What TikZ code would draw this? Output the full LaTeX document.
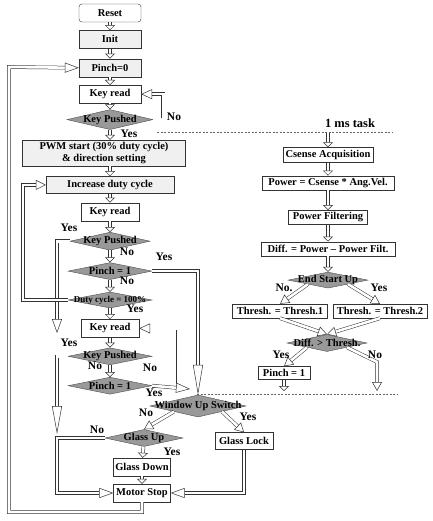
\documentclass[tikz,border=0pt]{standalone}
\usepackage{fontspec}
\setmainfont{Liberation Serif}
\usetikzlibrary{arrows.meta}
\usetikzlibrary{calc}
\usetikzlibrary{positioning}
\usetikzlibrary{shapes.geometric}

\tikzset{
  box/.style={shape=rectangle, draw=black!80, fill=white, inner sep=1pt,
    minimum height=18pt},
  shaded/.style={box, fill=black!6},
  decision/.style={shape=diamond, draw=black!70, fill=black!40, inner sep=0pt},
  flow/.style={draw=black!80, line width=0.5pt, double=white,
    double distance=2.6pt,
    -{Triangle[fill=white, line width=0.5pt, length=#1, width=10pt]}},
  flow/.default=5pt,
  answer/.style={inner sep=0pt, font=\bfseries\fontsize{11.5}{13}\selectfont},
  taskline/.style={draw=black!60, dash pattern=on 2pt off 1.5pt}
}

\begin{document}
\begin{tikzpicture}[x=1pt, y=-1pt,
    font=\bfseries\fontsize{10.5}{12}\selectfont]
  \useasboundingbox (0,0) rectangle (432,521);

  % main loop
  \node[name=reset, box, rounded corners=3pt, minimum width=62pt] at (110,13) {Reset};
  \node[name=init, shaded, minimum width=62pt, below=8pt of reset] {Init};
  \node[name=pinch0, shaded, minimum width=62pt, below=10pt of init] {Pinch=0};
  \node[name=keyA, box, minimum width=62pt, below=8pt of pinch0] {Key read};
  \node[name=pushA, decision, minimum width=86pt, minimum height=20pt,
    below=6pt of keyA] {\makebox[0pt]{Key Pushed}};
  \node[name=pwm, shaded, minimum width=163pt, minimum height=26pt, align=center,
    below=10pt of pushA, xshift=-6pt] {PWM start (30\% duty cycle)\\\& direction setting};
  \node[name=incr, shaded, minimum width=128pt, minimum height=17pt,
    below=10pt of pwm, xshift=6pt] {Increase duty cycle};
  \node[name=keyB, box, minimum width=58pt, below=9pt of incr] {Key read};
  \node[name=pushB, decision, minimum width=80pt, minimum height=18pt,
    below=11pt of keyB] {\makebox[0pt]{Key Pushed}};
  \node[name=pinchA, decision, minimum width=84pt, minimum height=17pt,
    below=12pt of pushB] {\makebox[0pt]{Pinch = 1}};
  \node[name=duty, decision, minimum width=84pt, minimum height=16pt,
    below=12pt of pinchA] {\makebox[0pt]{\fontsize{9}{10}\selectfont Duty cycle = 100\%}};
  \node[name=keyC, box, minimum width=58pt, below=11pt of duty] {Key read};
  \node[name=pushC, decision, minimum width=84pt, minimum height=17pt,
    below=10pt of keyC] {\makebox[0pt]{Key Pushed}};
  \node[name=pinchB, decision, minimum width=84pt, minimum height=17pt,
    below=12pt of pushC] {\makebox[0pt]{Pinch = 1}};

  \node[name=window, decision, minimum width=96pt, minimum height=22pt]
    at (198,406) {\makebox[0pt]{Window Up Switch}};
  \node[name=glassup, decision, minimum width=78pt, minimum height=17pt]
    at (144,438) {\makebox[0pt]{Glass Up}};
  \node[name=glasslock, box, minimum width=58pt, minimum height=17pt]
    at (244,441) {Glass Lock};
  \node[name=glassdown, box, minimum width=57pt] at (142,467) {Glass Down};
  \node[name=motor, box, minimum width=57pt] at (142,493) {Motor Stop};

  % 1 ms task
  \node[name=task, font=\bfseries\fontsize{12.5}{14}\selectfont] at (350,123) {1 ms task};
  \draw[taskline] (157,132) -- (392,132);
  \draw[taskline] (197,394) -- (398,394);
  \node[name=csense, box, minimum width=90pt, minimum height=15pt]
    at (328,155) {Csense Acquisition};
  \node[name=power, box, minimum width=132pt, minimum height=14pt,
    below=13pt of csense] {Power = Csense * Ang.Vel.};
  \node[name=filt, box, minimum width=79pt, minimum height=14pt,
    below=20pt of power] {Power Filtering};
  \node[name=diff, box, minimum width=134pt, minimum height=14pt,
    below=17pt of filt] {Diff. = Power -- Power Filt.};
  \node[name=endsu, decision, minimum width=80pt, minimum height=16pt,
    below=16pt of diff] {\makebox[0pt]{End Start Up}};
  \node[name=th1, box, minimum width=95pt, minimum height=14pt]
    at (280,311) {Thresh. = Thresh.1};
  \node[name=th2, box, minimum width=94pt, minimum height=14pt]
    at (380,311) {Thresh. = Thresh.2};
  \node[name=dgt, decision, minimum width=80pt, minimum height=17pt]
    at (327,343) {\makebox[0pt]{Diff. > Thresh.}};
  \node[name=pinchR, box, minimum width=52pt, minimum height=13pt]
    at (284,373) {Pinch = 1};

  \coordinate (taskin) at (328,133);
  \coordinate (pushBend) at (57,333);
  \coordinate (pushCend) at (57,434);
  \coordinate (pinchBend) at (190,389);
  \coordinate (dgtbend) at (377,362);
  \coordinate (noend) at (377,391);
  \coordinate (pinchRend) at (284,391);
  \coordinate (lockbend) at (244,493);
  \coordinate (upbendA) at (57,438);
  \coordinate (upbendB) at (57,493);
  \coordinate (stopbendA) at (142,512);
  \coordinate (stopbendB) at (9,512);
  \coordinate (stopbendC) at (9,67);

  \path (reset) edge[flow] (init);
  \path (init) edge[flow] (pinch0);
  \path (pinch0) edge[flow] (keyA);
  \path (keyA) edge[flow] (pushA);
  \draw[flow] (pushA.south) -- (pushA.south |- pwm.north);
  \draw[flow] (incr.north |- pwm.south) -- (incr.north);
  \path (incr) edge[flow] (keyB);
  \path (keyB) edge[flow] (pushB);
  \path (pushB) edge[flow] (pinchA);
  \path (pinchA) edge[flow] (duty);
  \path (duty) edge[flow] (keyC);
  \path (keyC) edge[flow] (pushC);
  \path (pushC) edge[flow] (pinchB);
  \path (glassup) edge[flow] (glassdown);
  \path (glassdown) edge[flow] (motor);

  \draw[flow=11pt] (pushA.east) -- ++(10pt,0) |- (keyA.east);
  \draw[flow=14pt] (pushB.west) -| (pushBend);
  \draw[flow=30pt] (pinchA.east) -| (window.north);
  \draw[flow=10pt] (duty.west) -- ++(-45pt,0) |- (incr.west);
  \draw[flow=28pt] (pushC.west) -| (pushCend);
  \draw[flow=11pt] (pinchB.east) -- ++(26pt,0) |- (keyC.east);
  \draw[flow=14pt] (pinchB.east) -- (pinchBend);
  \draw[flow=9pt] (window.south west) -- (glassup.north);
  \draw[flow=9pt] (window.south east) -- (glasslock.north);
  \draw[flow=14pt] (glassup.west) -- (upbendA) -- (upbendB) -- (motor.west);
  \draw[flow=14pt] (glasslock.south) -- (lockbend) -- (motor.east);
  \draw[flow=14pt] (motor.south) -- (stopbendA) -- (stopbendB) -- (stopbendC) -- (pinch0.west);

  \path (taskin) edge[flow] (csense);
  \path (csense) edge[flow] (power);
  \path (power) edge[flow] (filt);
  \path (filt) edge[flow] (diff);
  \path (diff) edge[flow] (endsu);
  \draw[flow=9pt] (endsu.south west) -- (th1.north);
  \draw[flow=9pt] (endsu.south east) -- (th2.north);
  \draw[flow=9pt] (th1.south) -- (dgt.north);
  \draw[flow=9pt] (th2.south) -- (dgt.north);
  \draw[flow=9pt] (dgt.south west) -- (pinchR.north);
  \draw[flow=9pt] (dgt.south east) -- (dgtbend) -- (noend);
  \path (pinchR) edge[flow] (pinchRend);

  % yes / no
  \node[answer] at (174,117) {No};
  \node[answer] at (129,134) {Yes};
  \node[answer] at (69,228) {Yes};
  \node[answer] at (127,252) {No};
  \node[answer] at (164,257) {Yes};
  \node[answer] at (127,281) {No};
  \node[answer] at (135,309) {Yes};
  \node[answer] at (69,343) {Yes};
  \node[answer] at (95,366) {No};
  \node[answer] at (150,368) {No};
  \node[answer] at (154,393) {Yes};
  \node[answer] at (146,413) {No};
  \node[answer] at (248,417) {Yes};
  \node[answer] at (97,430) {No};
  \node[answer] at (172,452) {Yes};
  \node[answer] at (284,288) {No.};
  \node[answer] at (379,288) {Yes};
  \node[answer] at (281,355) {Yes};
  \node[answer] at (375,355) {No};
\end{tikzpicture}
\end{document}
